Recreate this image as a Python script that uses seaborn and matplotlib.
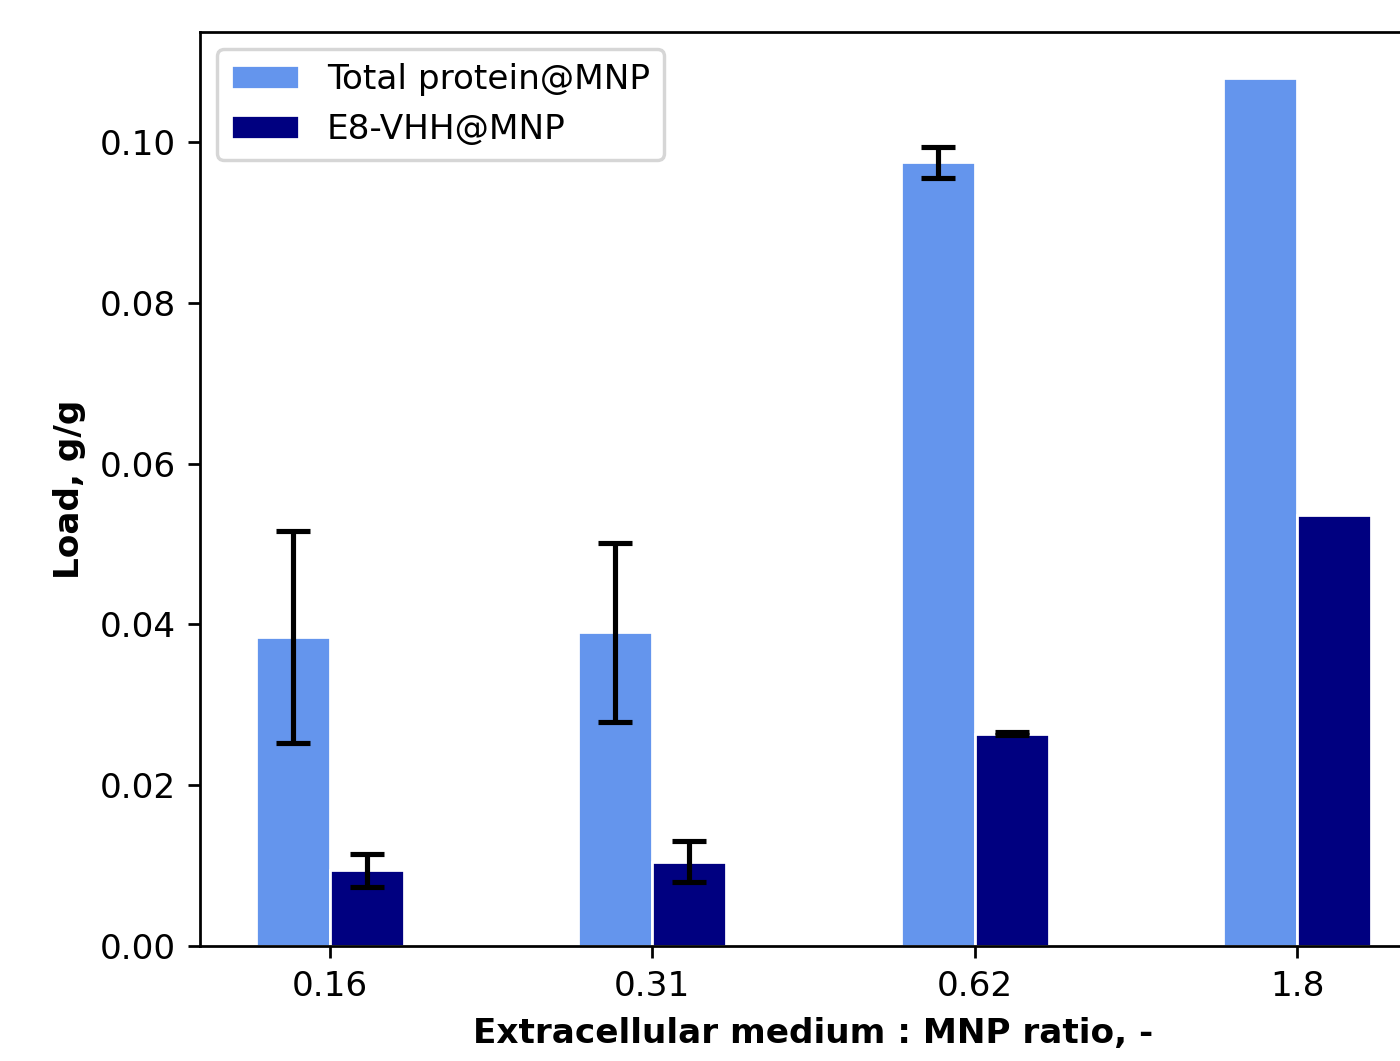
import pandas as pd
import seaborn as sns
import matplotlib.pyplot as plt

ratios = ['0.16', '0.31', '0.62', '1.8']
total_load = [0.0384, 0.0390, 0.0975, 0.1080]
total_err = [0.0132, 0.0111, 0.0019, 0.0]
vhh_load = [0.0094, 0.0105, 0.0264, 0.0536]
vhh_err = [0.0021, 0.0026, 0.0002, 0.0]
series = ['Total protein@MNP', 'E8-VHH@MNP']

Data = pd.DataFrame({
    'ratio': ratios * 2,
    'load': total_load + vhh_load,
    'err': total_err + vhh_err,
    'series': [series[0]] * 4 + [series[1]] * 4,
})

dpi = 247
fig = plt.figure(figsize=(1400 / dpi, 1061 / dpi), dpi=dpi)
ax = fig.add_axes([200 / 1400, 1 - 946 / 1061, 1227 / 1400, 914 / 1061])

sns.barplot(data=Data, x='ratio', y='load', hue='series', order=ratios,
            hue_order=series, palette=['cornflowerblue', 'navy'],
            width=0.46, edgecolor='white', linewidth=0.8, errorbar=None,
            saturation=1, ax=ax)

# error bars at the bar centres
bars = [p for p in ax.patches if p.get_height() > 0]
errs = total_err + vhh_err
for p, e in zip(bars, errs):
    if e > 0:
        ax.errorbar(p.get_x() + p.get_width() / 2, p.get_height(), yerr=e,
                    color='black', capsize=5, elinewidth=1.5, capthick=1.5)

ax.set_xlim(-0.403, 3.403)
ax.set_ylim(0, 0.1137)
ax.set_xlabel('Extracellular medium : MNP ratio, -', fontweight='bold')
ax.set_ylabel('Load, g/g', fontweight='bold')
ax.legend(loc='upper left')

plt.savefig('out.png', dpi=dpi)
